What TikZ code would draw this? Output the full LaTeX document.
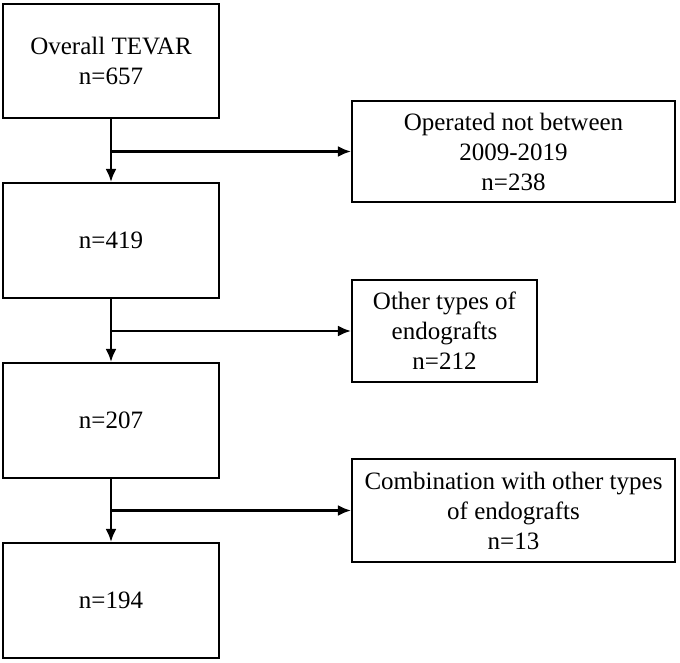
\documentclass[tikz,border=0pt]{standalone}
\usepackage{fontspec}
\setmainfont{Liberation Serif}
\usepackage{tikz}
\usetikzlibrary{arrows.meta}

\begin{document}
\begin{tikzpicture}
  [x=1pt,y=-1pt,line width=2.2pt,
   box/.style={draw,rectangle,inner sep=0pt,align=center,
     font=\fontsize{25}{30}\selectfont},
   flow/.style={-{Latex[length=13pt,width=11pt]}}]

  \useasboundingbox (0,0) rectangle (680,662);

  \node[box,minimum width=216pt,minimum height=114pt] (b1) at (111,61) {Overall TEVAR\\n=657};
  \node[box,minimum width=216pt,minimum height=115pt] (b2) at (111,240.5) {n=419};
  \node[box,minimum width=216pt,minimum height=115pt] (b3) at (111,420.5) {n=207};
  \node[box,minimum width=216pt,minimum height=115pt] (b4) at (111,600.5) {n=194};

  \node[box,minimum width=323pt,minimum height=101pt] (r1) at (513.5,151.5) {Operated not between\\2009-2019\\n=238};
  \node[box,minimum width=185pt,minimum height=102pt] (r2) at (444.5,331) {Other types of\\endografts\\n=212};
  \node[box,minimum width=323pt,minimum height=103pt] (r3) at (513.5,510.5) {Combination with other types\\of endografts\\n=13};

  \foreach \from/\to in {b1/b2,b2/b3,b3/b4}
    \draw[flow] (\from.south) -- (\to.north);

  \foreach \from/\to in {b1/r1,b2/r2,b3/r3}
    \draw[flow] (\from.south |- \to.west) -- (\to.west);
\end{tikzpicture}
\end{document}
